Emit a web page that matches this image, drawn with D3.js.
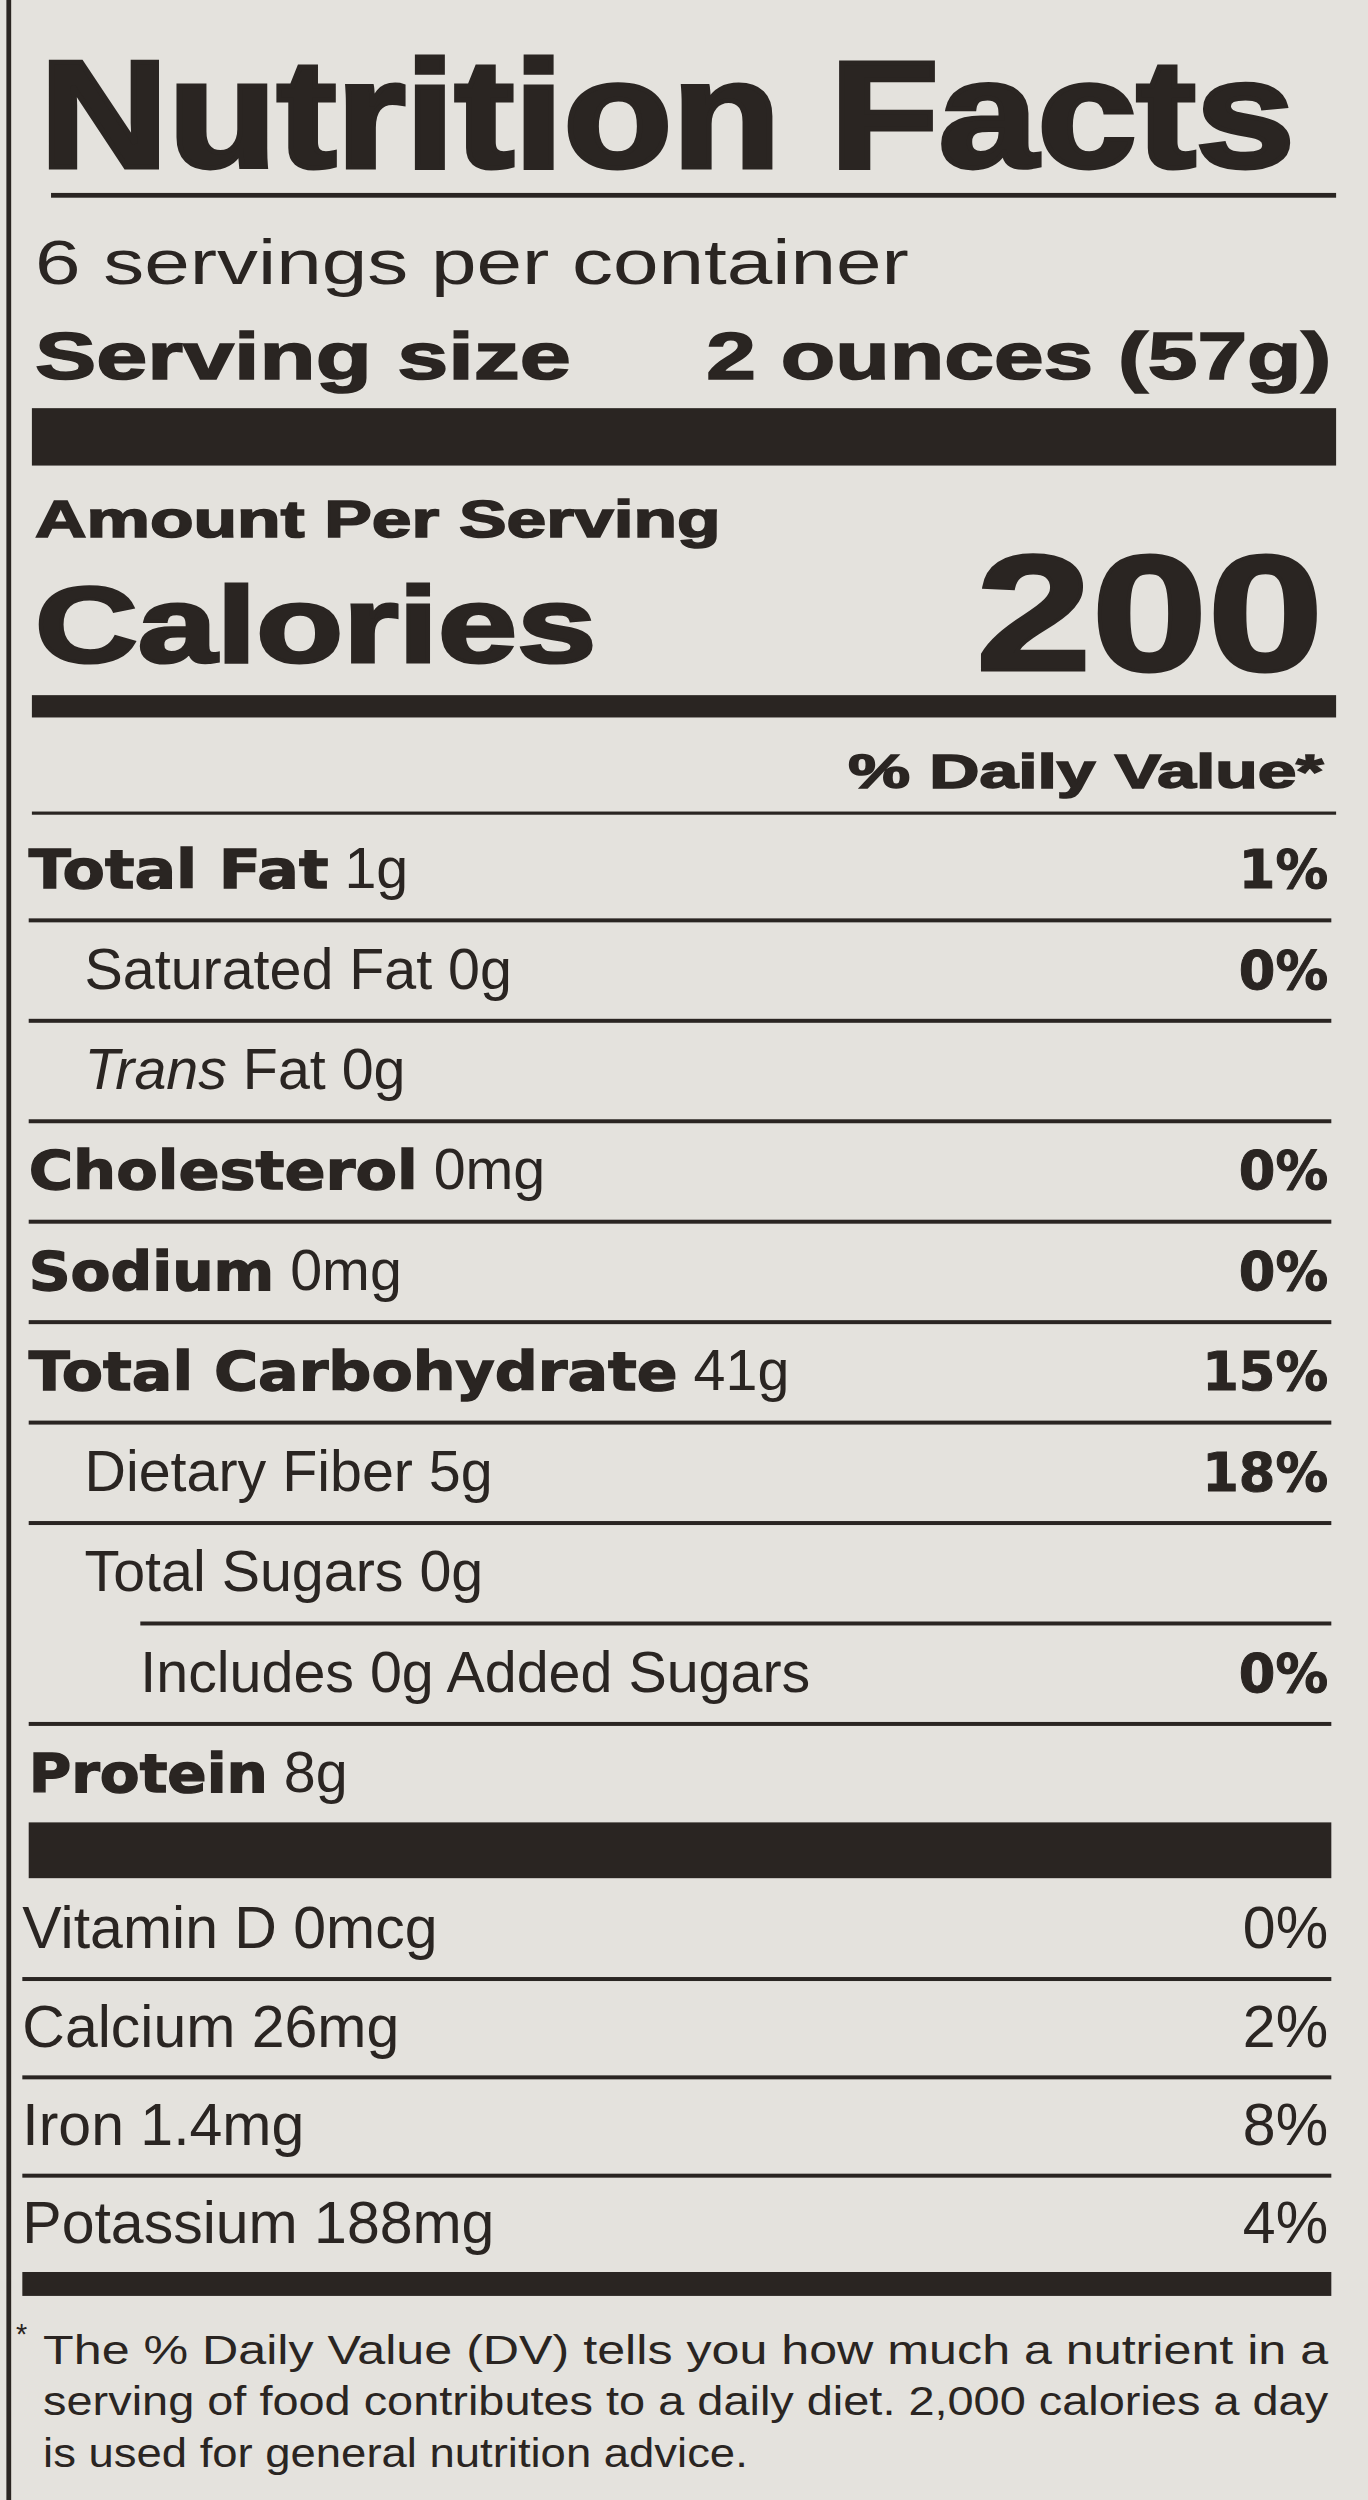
<!DOCTYPE html>
<html><head><meta charset="utf-8">
<script src="https://cdn.jsdelivr.net/npm/d3@7"></script>
<style>
body{margin:0;background:#e4e2dd;}
svg{display:block;}
</style></head>
<body><svg id="label"></svg>
<script>
// nutrient rows
const nutrients = ['Total Fat', 'Saturated Fat', 'Trans Fat', 'Cholesterol', 'Sodium', 'Total Carbohydrate', 'Dietary Fiber', 'Total Sugars', 'Includes 0g Added Sugars', 'Protein'];
const amounts = ['1g', '0g', '0g', '0mg', '0mg', '41g', '5g', '0g', '', '8g'];
const dailyValues = ['1%', '0%', '', '0%', '0%', '15%', '18%', '', '0%', ''];
const indents = [0, 1, 1, 0, 0, 0, 1, 1, 2, 0];
const boldRows = [true, false, false, true, true, true, false, false, false, true];
// vitamins & minerals
const vitamins = ['Vitamin D 0mcg', 'Calcium 26mg', 'Iron 1.4mg', 'Potassium 188mg'];
const vitaminDV = ['0%', '2%', '8%', '4%'];
const footnote = [
  'The % Daily Value (DV) tells you how much a nutrient in a',
  'serving of food contributes to a daily diet. 2,000 calories a day',
  'is used for general nutrition advice.'
];

const W = 858, H = 1568, ink = '#2a2522';
const svg = d3.select('#label')
  .attr('width', 1368).attr('height', 2500)
  .attr('viewBox', `0 0 ${W} ${H}`);
svg.append('rect').attr('width', W).attr('height', H).attr('fill', '#e4e2dd');
svg.append('rect').attr('x', 4).attr('y', 0).attr('width', 3).attr('height', H).attr('fill', ink);

const font = 'Liberation Sans, Arial, sans-serif';
const heavyFont = 'DejaVu Sans, sans-serif';
function txt(x, y, s, size, opts = {}) {
  const t = svg.append('text').attr('x', x).attr('y', y)
    .attr('font-family', opts.family || font).attr('font-size', size)
    .attr('font-weight', opts.bold ? 700 : 400)
    .attr('fill', ink).attr('text-anchor', opts.anchor || 'start')
    .attr('font-style', opts.italic ? 'italic' : null)
    .text(s);
  if (opts.heavy) t.attr('stroke', ink).attr('stroke-width', opts.heavy);
  if (opts.len) t.attr('textLength', opts.len).attr('lengthAdjust', 'spacingAndGlyphs');
  return t;
}
function bar(x1, x2, y, h) {
  svg.append('rect').attr('x', x1).attr('y', y).attr('width', x2 - x1).attr('height', h).attr('fill', ink);
}

// header
txt(25, 105, 'Nutrition Facts', 96, {bold: true, heavy: 3, len: 787});
bar(32, 838, 121, 3);
txt(22, 178, '6 servings per container', 40, {len: 548});
txt(22, 238, 'Serving size', 42, {bold: true, heavy: 1, len: 336});
txt(835, 238, '2 ounces (57g)', 42, {bold: true, heavy: 1, anchor: 'end', len: 392});
bar(20, 838, 256, 36);
txt(22, 337, 'Amount Per Serving', 32, {bold: true, heavy: 1, len: 430});
txt(22, 415, 'Calories', 68, {bold: true, heavy: 2, len: 352});
txt(830, 420, '200', 104, {bold: true, heavy: 2, anchor: 'end', len: 218});
bar(20, 838, 436, 14);
txt(830, 494, '% Daily Value*', 30, {bold: true, heavy: 1, anchor: 'end', len: 298});
bar(20, 838, 509, 2);

// nutrient rows
const boldLen = {'Total Fat': 188, 'Cholesterol': 244, 'Sodium': 154, 'Total Carbohydrate': 407, 'Protein': 150};
const y = d3.scaleLinear().domain([0, nutrients.length - 1]).range([557, 1124]);
const indentX = d3.scaleOrdinal().domain([0, 1, 2]).range([18, 53, 88]);
nutrients.forEach((n, i) => {
  const x0 = indentX(indents[i]);
  const t = svg.append('text').attr('x', x0).attr('y', y(i))
    .attr('font-family', font).attr('font-size', 36).attr('fill', ink);
  if (n === 'Trans Fat') {
    t.append('tspan').attr('font-style', 'italic').text('Trans');
    t.append('tspan').text(' Fat');
  } else if (boldRows[i]) {
    t.append('tspan').attr('font-family', heavyFont).attr('font-weight', 700).attr('font-size', 33)
      .attr('stroke', ink).attr('stroke-width', 0.8)
      .attr('textLength', boldLen[n]).attr('lengthAdjust', 'spacingAndGlyphs').text(n);
  } else {
    t.text(n);
  }
  if (amounts[i]) t.append('tspan').text(' ' + amounts[i]);
  if (dailyValues[i]) txt(833, y(i), dailyValues[i], 33, {family: heavyFont, bold: true, heavy: 0.6, anchor: 'end'});
  if (i < nutrients.length - 1) {
    bar(i === 7 ? 88 : 18, 835, y(i) + 19, 2.5);
  }
});
bar(18, 835, 1143, 35);

const vy = d3.scaleLinear().domain([0, vitamins.length - 1]).range([1222, 1407]);
vitamins.forEach((v, i) => {
  txt(14, vy(i), v, 37);
  txt(833, vy(i), vitaminDV[i], 37, {anchor: 'end'});
  if (i < vitamins.length - 1) bar(14, 835, vy(i) + 18, 2.5);
});
bar(14, 835, 1425, 15);

const fy = d3.scaleLinear().domain([0, footnote.length - 1]).range([1483, 1547]);
txt(10, 1470, '*', 18);
footnote.forEach((f, i) => {
  txt(27, fy(i), f, 25, {len: i === 2 ? 442 : 806});
});
</script></body></html>
